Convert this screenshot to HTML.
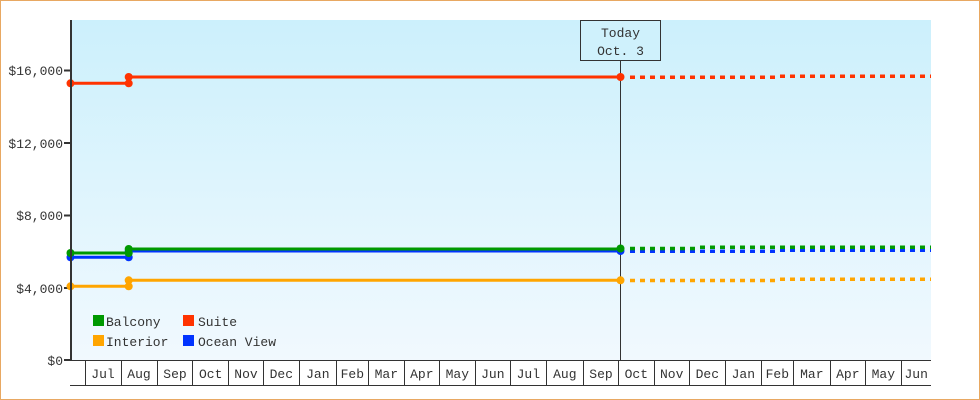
<!DOCTYPE html>
<html><head><meta charset="utf-8"><style>
html,body{margin:0;padding:0;background:#fff;}
svg{display:block;}
text{font-family:"Liberation Mono","DejaVu Sans Mono",monospace;font-size:13px;fill:#333;}
</style></head><body>
<svg width="980" height="400" viewBox="0 0 980 400" xmlns="http://www.w3.org/2000/svg">
<defs>
<linearGradient id="bg" x1="0" y1="0" x2="0" y2="1">
<stop offset="0" stop-color="#ccf0fc"/>
<stop offset="1" stop-color="#f1f9fe"/>
</linearGradient>
</defs>
<rect x="0.5" y="0.5" width="979" height="399" fill="#fff" stroke="#e8a862" stroke-width="1"/>
<rect x="71" y="20" width="860" height="340" fill="url(#bg)"/>

<!-- y labels -->
<g text-anchor="end">
<text x="63" y="75">$16,000</text>
<text x="63" y="148">$12,000</text>
<text x="63" y="220">$8,000</text>
<text x="63" y="293">$4,000</text>
<text x="63" y="365">$0</text>
</g>
<g stroke="#333" stroke-width="2">
<line x1="64" y1="70.5" x2="71" y2="70.5"/>
<line x1="64" y1="143" x2="71" y2="143"/>
<line x1="64" y1="215.5" x2="71" y2="215.5"/>
<line x1="64" y1="288" x2="71" y2="288"/>
<line x1="64" y1="360" x2="71" y2="360"/>
</g>

<!-- today line -->
<line x1="620.5" y1="60" x2="620.5" y2="360" stroke="#333" stroke-width="1"/>
<rect x="580.5" y="20.5" width="80" height="40" fill="#cff1fc" stroke="#333" stroke-width="1"/>
<text x="620.5" y="37" text-anchor="middle">Today</text>
<text x="620.5" y="55" text-anchor="middle">Oct. 3</text>

<!-- series: blue -->
<g fill="none" stroke-width="3">
<polyline points="70,257.3 128.7,257.3" stroke="#0033ff"/>
<polyline points="128.7,251 620.5,251" stroke="#0033ff"/>
<polyline points="70,253 128.7,253" stroke="#009900"/>
<polyline points="128.7,249 620.5,249" stroke="#009900"/>
<polyline points="70,286.3 128.7,286.3" stroke="#ffa500"/>
<polyline points="128.7,280.3 620.5,280.3" stroke="#ffa500"/>
<polyline points="70,83.3 128.7,83.3" stroke="#ff3300"/>
<polyline points="128.7,77 620.5,77" stroke="#ff3300"/>
</g>
<g fill="none" stroke-width="3.5" stroke-dasharray="5 5">
<path d="M630,251.3 H780 M780,250.3 H931" stroke="#0033ff"/>
<path d="M630,248.5 H700 M700,247.3 H931" stroke="#009900"/>
<path d="M630,280.5 H780 M780,279.3 H931" stroke="#ffa500"/>
<path d="M630,77.3 H780 M780,76.3 H931" stroke="#ff3300"/>
</g>
<!-- markers -->
<g fill="#0033ff">
<circle cx="70.5" cy="257.3" r="4"/><circle cx="128.7" cy="257.3" r="4"/><circle cx="128.7" cy="251" r="4"/><circle cx="620.5" cy="251" r="4"/>
</g>
<g fill="#009900">
<circle cx="70.5" cy="253" r="4"/><circle cx="128.7" cy="253" r="4"/><circle cx="128.7" cy="249" r="4"/><circle cx="620.5" cy="248.5" r="4"/>
</g>
<g fill="#ffa500">
<circle cx="70.5" cy="286.3" r="4"/><circle cx="128.7" cy="286.3" r="4"/><circle cx="128.7" cy="280.3" r="4"/><circle cx="620.5" cy="280.3" r="4"/>
</g>
<g fill="#ff3300">
<circle cx="70.5" cy="83.3" r="4"/><circle cx="128.7" cy="83.3" r="4"/><circle cx="128.7" cy="77" r="4"/><circle cx="620.5" cy="77" r="4"/>
</g>

<!-- y axis -->
<line x1="71" y1="20" x2="71" y2="360" stroke="#333" stroke-width="2"/>
<!-- x axis -->
<line x1="70" y1="360.5" x2="931" y2="360.5" stroke="#333" stroke-width="1"/>
<line x1="70" y1="385.5" x2="931" y2="385.5" stroke="#333" stroke-width="1"/>
<g stroke="#333" stroke-width="1">
<line x1="85.5" y1="360" x2="85.5" y2="385"/>
<line x1="121.5" y1="360" x2="121.5" y2="385"/>
<line x1="157.5" y1="360" x2="157.5" y2="385"/>
<line x1="192.5" y1="360" x2="192.5" y2="385"/>
<line x1="228.5" y1="360" x2="228.5" y2="385"/>
<line x1="263.5" y1="360" x2="263.5" y2="385"/>
<line x1="299.5" y1="360" x2="299.5" y2="385"/>
<line x1="336.5" y1="360" x2="336.5" y2="385"/>
<line x1="368.5" y1="360" x2="368.5" y2="385"/>
<line x1="404.5" y1="360" x2="404.5" y2="385"/>
<line x1="439.5" y1="360" x2="439.5" y2="385"/>
<line x1="475.5" y1="360" x2="475.5" y2="385"/>
<line x1="510.5" y1="360" x2="510.5" y2="385"/>
<line x1="546.5" y1="360" x2="546.5" y2="385"/>
<line x1="583.5" y1="360" x2="583.5" y2="385"/>
<line x1="618.5" y1="360" x2="618.5" y2="385"/>
<line x1="654.5" y1="360" x2="654.5" y2="385"/>
<line x1="689.5" y1="360" x2="689.5" y2="385"/>
<line x1="725.5" y1="360" x2="725.5" y2="385"/>
<line x1="761.5" y1="360" x2="761.5" y2="385"/>
<line x1="793.5" y1="360" x2="793.5" y2="385"/>
<line x1="830.5" y1="360" x2="830.5" y2="385"/>
<line x1="865.5" y1="360" x2="865.5" y2="385"/>
<line x1="901.5" y1="360" x2="901.5" y2="385"/>
</g>
<g text-anchor="middle">
<text x="103" y="378">Jul</text>
<text x="139" y="378">Aug</text>
<text x="175" y="378">Sep</text>
<text x="210.7" y="378">Oct</text>
<text x="246" y="378">Nov</text>
<text x="281.3" y="378">Dec</text>
<text x="317.8" y="378">Jan</text>
<text x="352.3" y="378">Feb</text>
<text x="386.3" y="378">Mar</text>
<text x="421.8" y="378">Apr</text>
<text x="457.3" y="378">May</text>
<text x="492.8" y="378">Jun</text>
<text x="528.3" y="378">Jul</text>
<text x="564.8" y="378">Aug</text>
<text x="601" y="378">Sep</text>
<text x="636.3" y="378">Oct</text>
<text x="671.7" y="378">Nov</text>
<text x="707.3" y="378">Dec</text>
<text x="743.3" y="378">Jan</text>
<text x="777.3" y="378">Feb</text>
<text x="811.8" y="378">Mar</text>
<text x="847.8" y="378">Apr</text>
<text x="883.3" y="378">May</text>
<text x="916.2" y="378">Jun</text>
</g>

<!-- legend -->
<rect x="93" y="315" width="11" height="11" fill="#009900"/>
<text x="106" y="326">Balcony</text>
<rect x="183" y="315" width="11" height="11" fill="#ff3300"/>
<text x="198" y="326">Suite</text>
<rect x="93" y="335" width="11" height="11" fill="#ffa500"/>
<text x="106" y="346">Interior</text>
<rect x="183" y="335" width="11" height="11" fill="#0033ff"/>
<text x="198" y="346">Ocean View</text>
</svg>
</body></html>
